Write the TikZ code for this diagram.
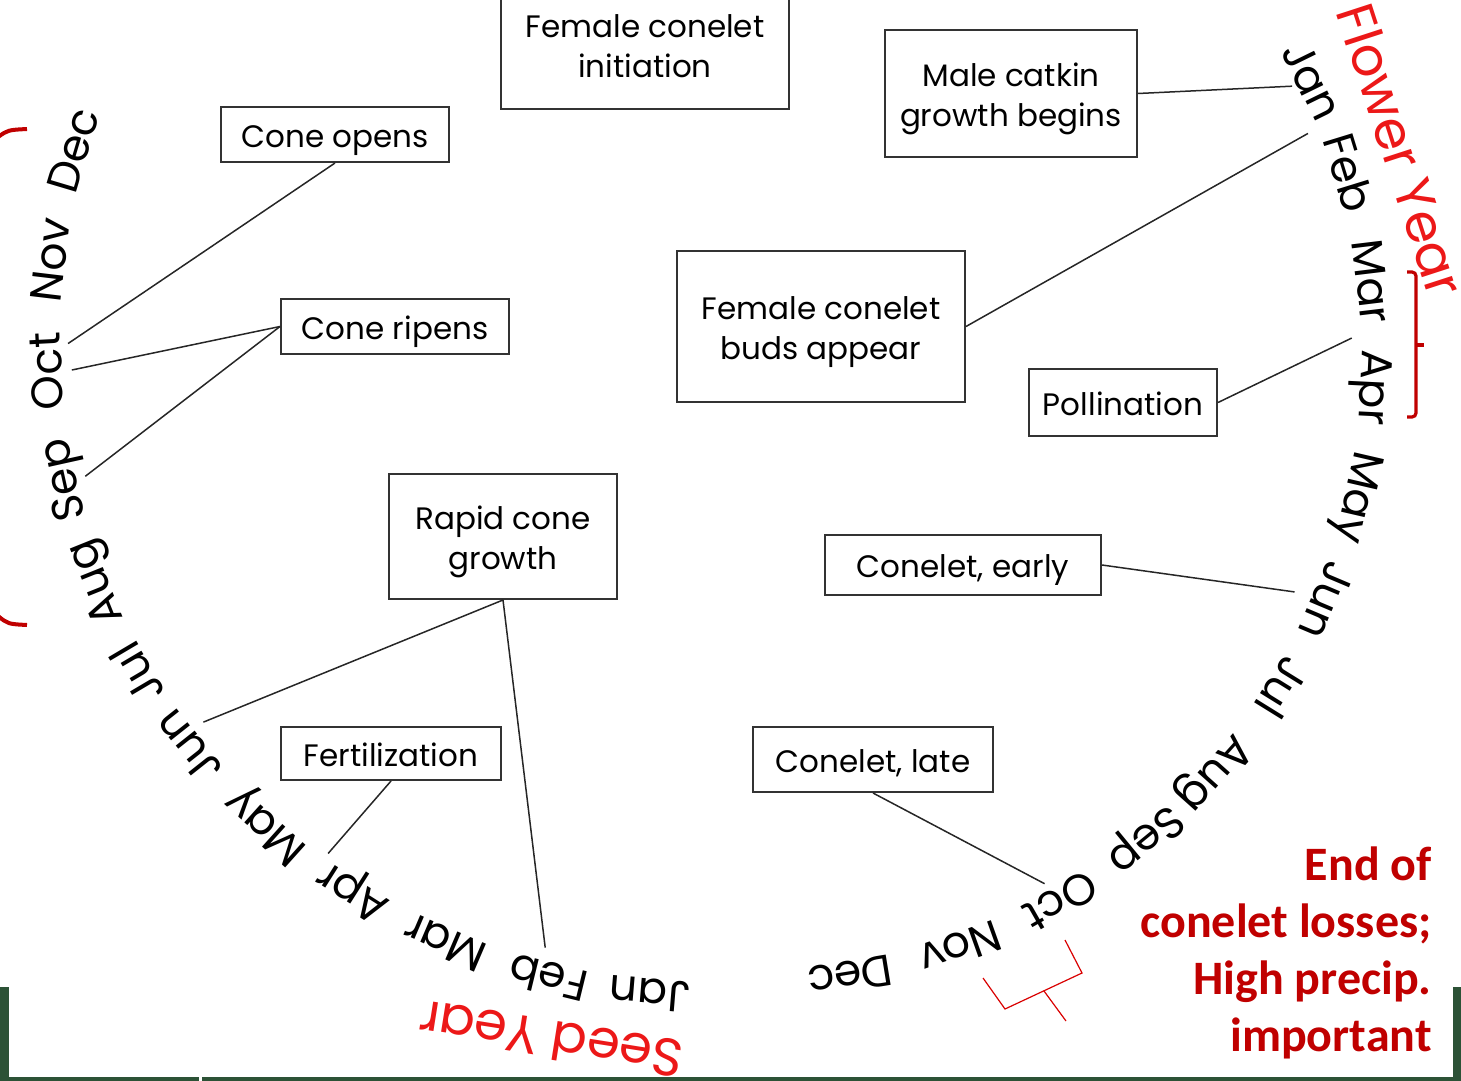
\documentclass[tikz,border=0pt]{standalone}
\usepackage{fontspec}
\usepackage{tikz}
\usetikzlibrary{calc}
\setmainfont{Poppins}
\newfontfamily\notefont{Carlito}
\definecolor{darkred}{RGB}{192,0,0}
\definecolor{yearred}{RGB}{236,24,24}
\definecolor{slidegreen}{RGB}{44,82,54}

\begin{document}
\begin{tikzpicture}[x=0.5pt,y=0.5pt,
  evbox/.style={draw=black!80, line width=1pt, inner sep=0pt},
  boxtext/.style={align=center, inner sep=0pt, font=\fontsize{15.5}{20}\selectfont},
  oneline/.style={boxtext, text height=16pt, text depth=3.2pt},
  twoline/.style={boxtext, yshift=-2.8pt},
  month/.style={anchor=base, inner sep=0pt, font=\fontsize{22}{22}\selectfont},
  yearlbl/.style={text=yearred, inner sep=0pt, font=\fontsize{26.5}{26.5}\selectfont},
  link/.style={draw=black!85, line width=0.75pt}]

\useasboundingbox (0,-1081) rectangle (1461,0);

\coordinate (fc) at (749,-357);
\coordinate (sc) at (704,-338);

% flower year, right arc
\foreach \m/\a [count=\i] in {Jan/26.1,Feb/17.1,Mar/6.9,Apr/-2.8,May/-13.0,Jun/-22.9,
    Jul/-31.8,Aug/-41.8,Sep/-50.6,Oct/-60.2,Nov/-70.3,Dec/-80.7}{
  \node[month, rotate=\a-90] (f\i) at ($(fc)+(\a:612)$) {\m};
}
% seed year, left arc
\foreach \m/\a [count=\i] in {Jan/265.3,Feb/256.3,Mar/246.8,Apr/237.6,May/228.1,Jun/218.4,
    Jul/210.6,Aug/201.9,Sep/192.5,Oct/182.9,Nov/173.2,Dec/163.4}{
  \node[month, rotate=\a-90] (s\i) at ($(sc)+(\a:643)$) {\m};
}

\node[yearlbl, rotate=-72] (flower) at (1401,-150) {Flower Year};
\node[yearlbl, rotate=171] (seed) at (551,-1040) {Seed Year};

\coordinate (fJan) at ($(fc)+(26.5:607)$);
\coordinate (fFeb) at ($(fc)+(21.8:602)$);
\coordinate (fApr) at ($(fc)+(1.8:603)$);
\coordinate (fJun) at ($(fc)+(-23.3:594)$);
\coordinate (fOct) at ($(fc)+(-60.7:604)$);
\coordinate (sOctA) at ($(sc)+(180.5:636)$);
\coordinate (sOctB) at ($(sc)+(182.9:633)$);
\coordinate (sSep) at ($(sc)+(192.6:634)$);
\coordinate (sJun) at ($(sc)+(217.5:631)$);
\coordinate (sApr) at ($(sc)+(233.9:638)$);
\coordinate (sFeb) at ($(sc)+(255.4:630)$);

\node[evbox, minimum width=144pt, minimum height=68pt,
  label={[twoline]center:{Female conelet\\initiation}}] (init) at (645,-41) {};
\node[evbox, minimum width=114pt, minimum height=27.5pt,
  label={[oneline]center:Cone opens}] (opens) at (335,-134.5) {};
\node[evbox, minimum width=114pt, minimum height=27.5pt,
  label={[oneline]center:Cone ripens}] (ripens) at (395,-326.5) {};
\node[evbox, minimum width=126pt, minimum height=63.5pt,
  label={[twoline]center:{Male catkin\\growth begins}}] (catkin) at (1011,-93.5) {};
\node[evbox, minimum width=144pt, minimum height=75.5pt,
  label={[twoline]center:{Female conelet\\buds appear}}] (buds) at (821,-326.5) {};
\node[evbox, minimum width=94pt, minimum height=33.5pt,
  label={[oneline]center:Pollination}] (pollin) at (1123,-402.5) {};
\node[evbox, minimum width=114pt, minimum height=62.5pt,
  label={[twoline]center:{Rapid cone\\growth}}] (rapid) at (503,-536.5) {};
\node[evbox, minimum width=138pt, minimum height=30pt,
  label={[oneline]center:{Conelet, early}}] (early) at (963,-565) {};
\node[evbox, minimum width=110pt, minimum height=26.5pt,
  label={[oneline]center:Fertilization}] (fert) at (391,-753.5) {};
\node[evbox, minimum width=120pt, minimum height=32.5pt,
  label={[oneline]center:{Conelet, late}}] (late) at (873,-759.5) {};

\draw[link] (opens.south) -- (sOctA);
\draw[link] (ripens.west) -- (sOctB);
\draw[link] (ripens.west) -- (sSep);
\draw[link] (catkin.east) -- (fJan);
\draw[link] (buds.east) -- (fFeb);
\draw[link] (pollin.east) -- (fApr);
\draw[link] (early.east) -- (fJun);
\draw[link] (rapid.south) -- (sJun);
\draw[link] (rapid.south) -- (sFeb);
\draw[link] (fert.south) -- (sApr);
\draw[link] (late.south) -- (fOct);

% brackets
\draw[darkred, line width=1.6pt, rounded corners=2pt] (1407,-272) -- (1416,-272) -- (1416,-417) -- (1407,-417);
\draw[darkred, line width=1.6pt] (1416,-345) -- (1424,-345);
\draw[darkred, line width=2pt] (-2,-137) .. controls (8,-130) .. (27,-129);
\draw[darkred, line width=2pt] (-2,-616) .. controls (8,-624) .. (27,-625);
\draw[red!85!black, line width=0.6pt] (983,-978) -- (1005,-1009) -- (1082,-973) -- (1065,-940);
\draw[red!85!black, line width=0.6pt] (1044,-991) -- (1066,-1021);

\node[anchor=north east, align=right, inner sep=0pt, text=darkred,
  font=\notefont\bfseries\fontsize{24}{28.5}\selectfont] (note) at (1432,-846)
  {End of\\conelet losses;\\High precip.\\important};

% slide frame
\fill[slidegreen] (0,-1081) rectangle (9,-987);
\fill[slidegreen] (0,-1081) rectangle (199,-1077);
\fill[slidegreen] (202,-1081) rectangle (1461,-1077);
\fill[slidegreen] (1453,-1081) rectangle (1461,-987);

\end{tikzpicture}
\end{document}
